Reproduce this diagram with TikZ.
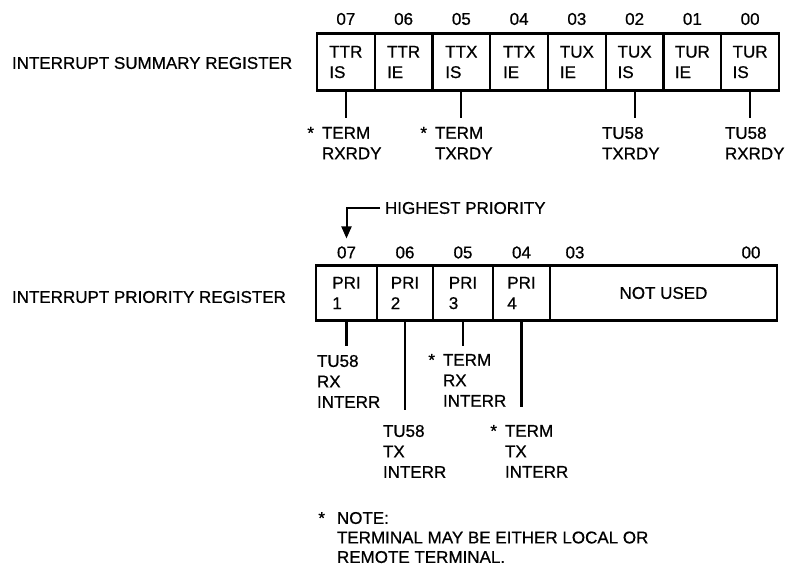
\documentclass[tikz,border=0pt]{standalone}
\usepackage{fontspec}
\setmainfont{Liberation Sans}[FakeBold=0.7]
\usetikzlibrary{arrows.meta}
\begin{document}
\begin{tikzpicture}[x=1pt,y=-1pt,
  every node/.style={inner sep=0pt, outer sep=0pt, font=\fontsize{17}{20.5}\selectfont},
  cell/.style={draw, line width=2.4pt, align=left, minimum height=57pt},
  pcell/.style={draw, line width=2.4pt, align=left, minimum height=55pt},
  num/.style={anchor=south},
  lbl/.style={anchor=north west, align=left},
  stem/.style={line width=2.2pt}]
\useasboundingbox (0,0) rectangle (786,568);

% ---------- Interrupt summary register ----------
\node[anchor=west] (rs) at (12,63) {INTERRUPT SUMMARY REGISTER};

\node[cell, minimum width=57.75pt] (s7) at (345.875,62) {TTR\\IS};
\node[cell, minimum width=57.75pt] (s6) at (403.625,62) {TTR\\IE};
\node[cell, minimum width=57.75pt] (s5) at (461.375,62) {TTX\\IS};
\node[cell, minimum width=57.75pt] (s4) at (519.125,62) {TTX\\IE};
\node[cell, minimum width=57.75pt] (s3) at (576.875,62) {TUX\\IE};
\node[cell, minimum width=57.75pt] (s2) at (634.625,62) {TUX\\IS};
\node[cell, minimum width=57.75pt] (s1) at (692.375,62) {TUR\\IE};
\node[cell, minimum width=57.75pt] (s0) at (750.125,62) {TUR\\IS};

\foreach \c/\t in {s7/07,s6/06,s5/05,s4/04,s3/03,s2/02,s1/01,s0/00}
  \node[num] (\c n) at ([yshift=8.5pt]\c.north) {\t};

\node[lbl] (t7) at (322,127) {\llap{*\hspace{8pt}}TERM\\RXRDY};
\node[lbl] (t5) at (435,127) {\llap{*\hspace{8pt}}TERM\\TXRDY};
\node[lbl] (t2) at (602,127) {TU58\\TXRDY};
\node[lbl] (t0) at (725,127) {TU58\\RXRDY};

\draw[stem, shorten >=9pt] (s7.south) -- (s7.south |- t7.north);
\draw[stem, shorten >=9pt] (s5.south) -- (s5.south |- t5.north);
\draw[stem, shorten >=9pt] (s2.south) -- (s2.south |- t2.north);
\draw[stem, shorten >=9pt] (s0.south) -- (s0.south |- t0.north);

% ---------- Interrupt priority register ----------
\node[anchor=west] (rp) at (12,297) {INTERRUPT PRIORITY REGISTER};

\node[pcell, minimum width=61pt] (p7) at (346.5,293) {PRI\\1};
\node[pcell, minimum width=56pt] (p6) at (405,293) {PRI\\2};
\node[pcell, minimum width=60pt] (p5) at (463,293) {PRI\\3};
\node[pcell, minimum width=57pt] (p4) at (521.5,293) {PRI\\4};
\node[pcell, minimum width=227pt, align=center] (pu) at (663.5,293) {NOT USED};

\foreach \c/\t in {p7/07,p6/06,p5/05,p4/04}
  \node[num] (\c n) at ([yshift=7pt]\c.north) {\t};
\node[num] (pun3) at ([xshift=25pt,yshift=7pt]pu.north west) {03};
\node[num] (pun0) at ([xshift=-26pt,yshift=7pt]pu.north east) {00};

\node[anchor=west] (hp) at (385,208) {HIGHEST PRIORITY};
\draw[line width=2pt, -{Triangle[width=10pt,length=12pt]}, shorten <=5pt, shorten >=8pt]
  (hp.west) -| (p7n.north);

\node[lbl] (q7) at (317,355) {TU58\\RX\\INTERR};
\node[lbl] (q6) at (383,425) {TU58\\TX\\INTERR};
\node[lbl] (q5) at (443,354) {\llap{*\hspace{8pt}}TERM\\RX\\INTERR};
\node[lbl] (q4) at (505,425) {\llap{*\hspace{8pt}}TERM\\TX\\INTERR};

\draw[stem, shorten >=9pt] (p7.south) -- (p7.south |- q7.north);
\draw[stem, shorten >=15pt] (p6.south) -- (p6.south |- q6.north);
\draw[stem, shorten >=8pt] (p5.south) -- (p5.south |- q5.north);
\draw[stem, shorten >=18pt] (p4.south) -- (p4.south |- q4.north);

% ---------- Note ----------
\node[lbl, font=\fontsize{17}{19.5}\selectfont] (note) at (337,512)
  {\llap{*\hspace{12pt}}NOTE:\\TERMINAL MAY BE EITHER LOCAL OR\\REMOTE TERMINAL.};
\end{tikzpicture}
\end{document}
